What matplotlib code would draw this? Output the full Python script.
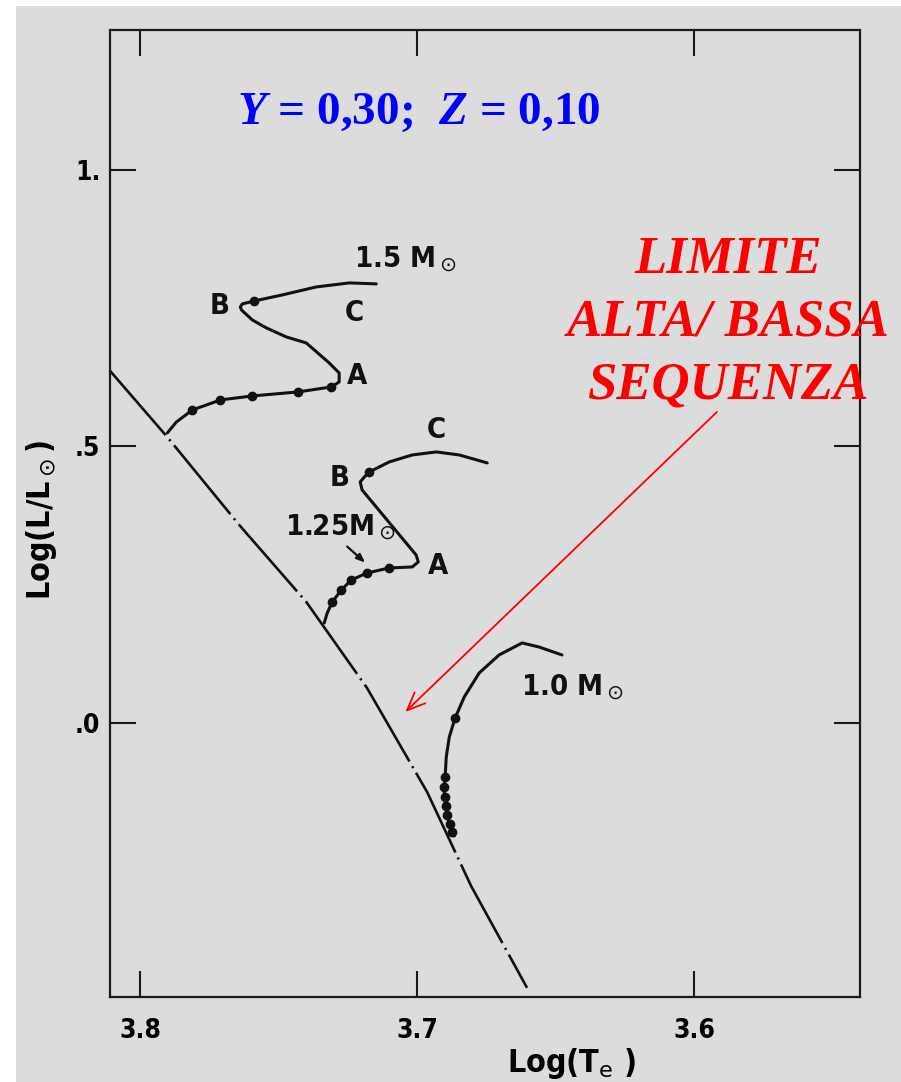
import matplotlib
matplotlib.use("Agg")
import matplotlib.pyplot as plt
from matplotlib import font_manager
from matplotlib.patches import Rectangle

# famiglia stretta per le scritte nere, se c'e'
nomi = {f.name for f in font_manager.fontManager.ttflist}
stretto = "Liberation Sans Narrow" if "Liberation Sans Narrow" in nomi else "DejaVu Sans"
serif = "Liberation Serif"

plt.rcParams['lines.scale_dashes'] = False
plt.rcParams['mathtext.it'] = serif + ':italic:bold'
plt.rcParams['mathtext.rm'] = serif + ':bold'

# sequenza principale (log Te, log L/Lsun)
zams_x = [3.8119, 3.7903, 3.7643, 3.7401, 3.7181, 3.6964, 3.6805, 3.6603]
zams_y = [0.642, 0.517, 0.358, 0.219, 0.063, -0.125, -0.295, -0.479]

# traccia 1.5 Msun
m15_x = [3.7903, 3.7870, 3.7812, 3.7711, 3.7596, 3.7430, 3.7310, 3.7282, 3.7282,
         3.7318, 3.7401, 3.7473, 3.7545, 3.7596, 3.7635, 3.7639, 3.7632, 3.7588,
         3.7487, 3.7365, 3.7245, 3.7148]
m15_y = [0.5244, 0.5443, 0.5660, 0.5841, 0.5913, 0.5986, 0.6076, 0.6166, 0.6329,
         0.6510, 0.6872, 0.6980, 0.7143, 0.7288, 0.7468, 0.7523, 0.7577, 0.7631,
         0.7740, 0.7884, 0.7957, 0.7939]
m15_px = [3.7812, 3.7711, 3.7596, 3.7430, 3.7310, 3.7588]
m15_py = [0.5660, 0.5841, 0.5913, 0.5986, 0.6076, 0.7631]

# traccia 1.25 Msun
m125_x = [3.7336, 3.7325, 3.7307, 3.7274, 3.7238, 3.7181, 3.7101, 3.7018, 3.6996,
          3.7004, 3.7199, 3.7206, 3.7191, 3.7173, 3.7101, 3.7018, 3.6931, 3.6848,
          3.6747]
m125_y = [0.1808, 0.1989, 0.2188, 0.2405, 0.2586, 0.2712, 0.2803, 0.2821, 0.2911,
          0.3038, 0.4213, 0.4358, 0.4448, 0.4539, 0.4720, 0.4846, 0.4901, 0.4846,
          0.4702]
m125_px = [3.7307, 3.7274, 3.7238, 3.7181, 3.7101, 3.7173]
m125_py = [0.2188, 0.2405, 0.2586, 0.2712, 0.2803, 0.4539]

# traccia 1.0 Msun
m10_x = [3.6866, 3.6881, 3.6892, 3.6899, 3.6903, 3.6899, 3.6895, 3.6884, 3.6863,
         3.6830, 3.6776, 3.6704, 3.6621, 3.6560, 3.6477]
m10_y = [-0.2043, -0.1863, -0.1664, -0.1447, -0.1212, -0.0976, -0.0615, -0.0253,
         0.0090, 0.0470, 0.0904, 0.1230, 0.1447, 0.1374, 0.1230]
m10_px = [3.6863, 3.6899, 3.6903, 3.6899, 3.6895, 3.6892, 3.6881, 3.6874]
m10_py = [0.0090, -0.0976, -0.1157, -0.1338, -0.1501, -0.1664, -0.1827, -0.1971]

xtick = [3.8, 3.7, 3.6]
xtick_lab = ["3.8", "3.7", "3.6"]
ytick = [1.0, 0.5, 0.0]
ytick_lab = ["1.", ".5", ".0"]

fig = plt.figure(figsize=(9.01, 10.82), dpi=100, facecolor="white")
fig.patches.append(Rectangle((16/901, 0), 1, 1 - 6/1082, transform=fig.transFigure,
                             facecolor="#dcdcdc", edgecolor="none", zorder=-10))

ax = fig.add_axes([110/901, 1 - 997/1082, 750/901, 967/1082])
ax.set_facecolor("none")
ax.set_xlim(3.811, 3.540)
ax.set_ylim(-0.4955, 1.253)

for s in ax.spines.values():
    s.set_linewidth(1.6)
    s.set_color("#1a1a1a")

ax.set_xticks(xtick)
ax.set_xticklabels(xtick_lab)
ax.set_yticks(ytick)
ax.set_yticklabels(ytick_lab)
ax.tick_params(direction="in", length=19, width=1.5, color="#1a1a1a",
               top=True, right=True, labelsize=19)
ax.tick_params(axis="x", pad=15)
ax.tick_params(axis="y", pad=7)
for t in ax.get_xticklabels() + ax.get_yticklabels():
    t.set_family(stretto)
    t.set_weight("bold")
    t.set_stretch("condensed")

ax.set_xlabel("Log(T$_\\mathsf{e}$ )", family=stretto, weight="bold", stretch="condensed",
              fontsize=23, va="center")
ax.set_ylabel("Log(L/L$_\\odot$)", family=stretto, weight="bold", stretch="condensed",
              fontsize=23, va="center")
ax.xaxis.set_label_coords(0.616, -0.069)
ax.yaxis.set_label_coords(-0.091, 0.493)

# linea della ZAMS tratteggiata
ax.plot(zams_x, zams_y, color="#111111", lw=1.9, dashes=(64, 4, 1.5, 4))

for tx, ty, px, py in [(m15_x, m15_y, m15_px, m15_py),
                       (m125_x, m125_y, m125_px, m125_py),
                       (m10_x, m10_y, m10_px, m10_py)]:
    ax.plot(tx, ty, color="#111111", lw=2.2, solid_capstyle="round")
    ax.plot(px, py, "o", color="#111111", ms=6)

lab = dict(family=stretto, weight="bold", stretch="condensed", fontsize=21, color="#111111")
ax.text(3.7715, 0.754, "B", ha="center", va="center", **lab)
ax.text(3.7227, 0.7414, "C", ha="center", va="center", **lab)
ax.text(3.7217, 0.6275, "A", ha="center", va="center", **lab)
ax.text(3.7282, 0.443, "B", ha="center", va="center", **lab)
ax.text(3.6931, 0.530, "C", ha="center", va="center", **lab)
ax.text(3.6924, 0.2839, "A", ha="center", va="center", **lab)
ax.text(3.7227, 0.8246, "1.5 M$_\\odot$", ha="left", va="baseline", **lab)
ax.text(3.7477, 0.340, "1.25M$_\\odot$", ha="left", va="baseline", **lab)
ax.text(3.6625, 0.0506, "1.0 M$_\\odot$", ha="left", va="baseline", **lab)

ax.annotate("", xy=(3.7188, 0.290), xytext=(3.7253, 0.319),
            arrowprops=dict(arrowstyle="-|>,head_length=0.5,head_width=0.2",
                            color="#111111", lw=1.6, shrinkA=0, shrinkB=0))

# scritte colorate
ax.text(3.6995, 1.083, r"$\mathit{Y}$ = 0,30;  $\mathit{Z}$ = 0,10", ha="center",
        va="baseline", family=serif, weight="bold", fontsize=34, color="#0000ff",
        math_fontfamily="custom")
ax.text(3.5877, 0.7233, "LIMITE\nALTA/ BASSA\nSEQUENZA", ha="center", va="center",
        family=serif, weight="bold", style="italic", fontsize=38, color="#ff0000",
        linespacing=1.4)
ax.annotate("", xy=(3.7043, 0.0199), xytext=(3.5917, 0.5624),
            arrowprops=dict(arrowstyle="->,head_length=1.3,head_width=0.55",
                            color="#ff0000", lw=1.3, shrinkA=0, shrinkB=0))

fig.savefig("out.png", dpi=100)
